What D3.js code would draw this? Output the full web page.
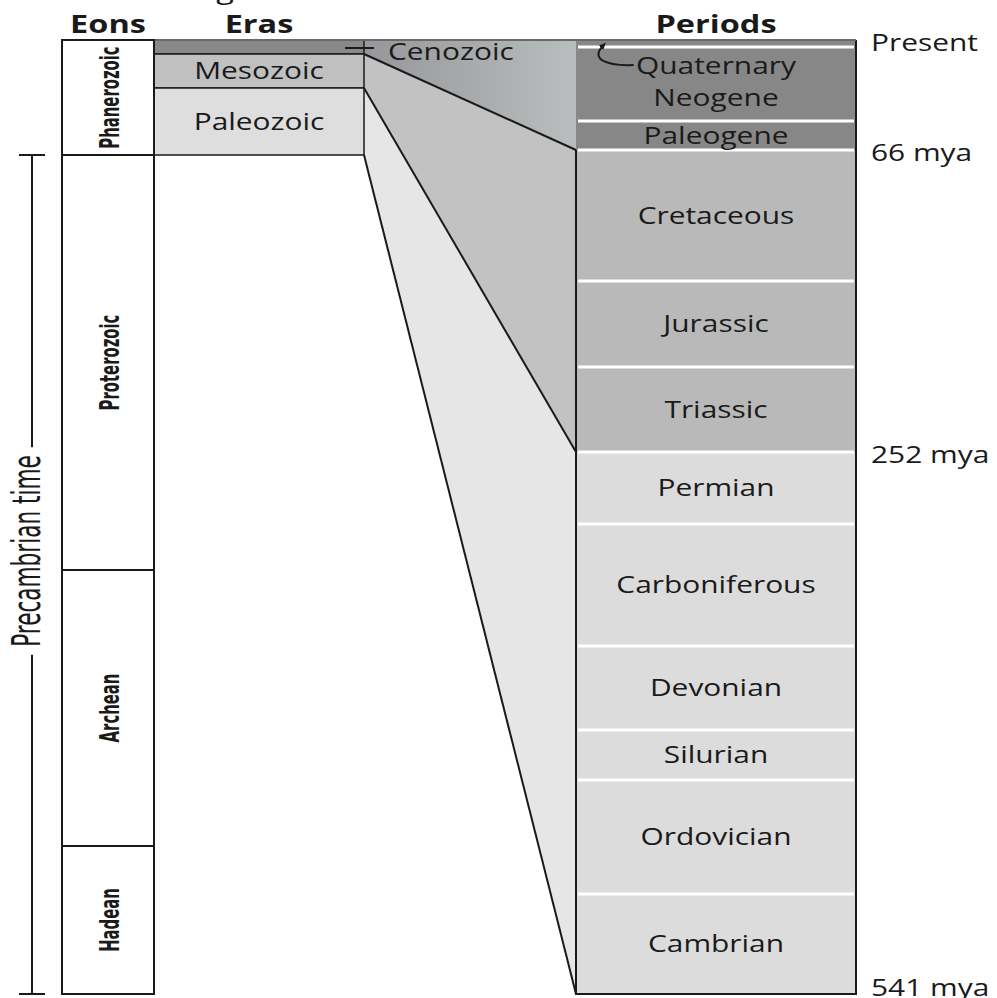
<!DOCTYPE html>
<html>
<head>
<meta charset="utf-8">
<script src="https://cdn.jsdelivr.net/npm/d3@7"></script>
<style>
    body { margin: 0; background: #fff; }
    svg { display: block; }
</style>
</head>
<body>
<svg id="svg" width="997" height="998"></svg>
<script>
// ages are in millions of years ago, each value is the older end of the unit
let eonNames = ["Phanerozoic", "Proterozoic", "Archean", "Hadean"];
let eonEnds = [541, 2500, 4000, 4600];

let eraNames = ["Cenozoic", "Mesozoic", "Paleozoic"];
let eraEnds = [66, 252, 541];

let periodNames = ["Quaternary", "Neogene", "Paleogene", "Cretaceous", "Jurassic", "Triassic",
    "Permian", "Carboniferous", "Devonian", "Silurian", "Ordovician", "Cambrian"];
let periodEnds = [2.6, 23, 66, 145, 201, 252, 299, 359, 419, 444, 485, 541];

let markAges = [0, 66, 252, 541];
let markLabels = ["Present", "66 mya", "252 mya", "541 mya"];

let svg = d3.select("#svg");
const SX = 1.3;          // lettering in the figure is stretched sideways
const VX = 1.65;         // and the upright lettering even more
const ink = "#1a1a1a";
const font = "'Open Sans', sans-serif";
const narrow = "'Liberation Sans Narrow', 'DejaVu Sans Condensed', sans-serif";

// the figure is not drawn to scale, so both columns use piecewise scales
let leftY = d3.scaleLinear()
    .domain([0].concat(eraEnds, eonEnds.slice(1)))
    .range([40, 54, 88, 155, 570, 846, 994]);

let rightY = d3.scaleLinear()
    .domain([0].concat(periodEnds))
    .range([40, 47, 121, 150, 281, 367, 452, 524, 646, 730, 780, 894, 994]);

const eonX = [62, 154];
const eraX = [154, 364];
const perX = [576, 856];

let eraFill = ["#898989", "#c0c0c0", "#dedede"];
let wedgeFill = ["url(#ceno)", "#c2c2c2", "#e6e6e6"];
let periodFill = ["#878787", "#b9b9b9", "#dcdcdc"];

let defs = svg.append("defs");
let grad = defs.append("linearGradient").attr("id", "ceno")
    .attr("x1", 0).attr("x2", 1).attr("y1", 0).attr("y2", 0);
grad.append("stop").attr("offset", 0).attr("stop-color", "#95979a");
grad.append("stop").attr("offset", 1).attr("stop-color", "#babdbd");

defs.append("marker").attr("id", "head")
    .attr("viewBox", "0 0 10 10").attr("refX", 5).attr("refY", 5)
    .attr("markerWidth", 4).attr("markerHeight", 4).attr("orient", "auto")
    .append("path").attr("d", "M0,1 L9,5 L0,9 Z").attr("fill", ink);

function hText(g, x, y, str, size, weight, anchor) {
    return g.append("text")
        .attr("transform", `translate(${x},${y}) scale(${SX},1)`)
        .attr("text-anchor", anchor || "middle")
        .style("font-family", font)
        .style("font-size", size + "px")
        .style("font-weight", weight || 400)
        .style("fill", ink)
        .text(str);
}

function vText(g, x, y, str, size, weight) {
    return g.append("text")
        .attr("transform", `translate(${x},${y}) scale(${VX},1) rotate(-90)`)
        .attr("text-anchor", "middle")
        .style("font-family", narrow)
        .style("font-size", size + "px")
        .style("font-weight", weight || 400)
        .style("fill", ink)
        .text(str);
}

function span(ends, i) {
    return [i === 0 ? 0 : ends[i - 1], ends[i]];
}

function eraOf(age) {
    return eraEnds.findIndex(e => age <= e);
}

// wedges linking the era boxes to the period column
let wedges = svg.append("g");
eraNames.forEach((name, i) => {
    let [a0, a1] = span(eraEnds, i);
    let pts = [[eraX[1], leftY(a0)], [perX[0], rightY(a0)], [perX[0], rightY(a1)], [eraX[1], leftY(a1)]];
    wedges.append("polygon")
        .attr("points", pts.map(p => p.join(",")).join(" "))
        .attr("fill", wedgeFill[i]);
});
eraEnds.forEach(a => {
    wedges.append("line")
        .attr("x1", eraX[1]).attr("y1", leftY(a))
        .attr("x2", perX[0]).attr("y2", rightY(a))
        .attr("stroke", ink).attr("stroke-width", 2);
});

// periods
let periods = svg.append("g");
periodNames.forEach((name, i) => {
    let [a0, a1] = span(periodEnds, i);
    periods.append("rect")
        .attr("x", perX[0]).attr("y", rightY(a0))
        .attr("width", perX[1] - perX[0]).attr("height", rightY(a1) - rightY(a0))
        .attr("fill", periodFill[eraOf(a1)]);
});
periodEnds.slice(0, -1).forEach(a => {
    periods.append("line")
        .attr("x1", perX[0] + 2).attr("x2", perX[1] - 2)
        .attr("y1", rightY(a)).attr("y2", rightY(a))
        .attr("stroke", "#fff").attr("stroke-width", 3);
});
periods.append("path")
    .attr("d", `M${perX[0]},${rightY(eraEnds[0])} V${rightY(541)} H${perX[1]} V${rightY(0)}`)
    .attr("fill", "none").attr("stroke", ink).attr("stroke-width", 2);

// eras
let eras = svg.append("g");
eraNames.forEach((name, i) => {
    let [a0, a1] = span(eraEnds, i);
    eras.append("rect")
        .attr("x", eraX[0]).attr("y", leftY(a0))
        .attr("width", eraX[1] - eraX[0]).attr("height", leftY(a1) - leftY(a0))
        .attr("fill", eraFill[i])
        .attr("stroke", ink).attr("stroke-width", 1.5);
});

// top edge across eras, wedges and periods
svg.append("line")
    .attr("x1", eraX[0]).attr("x2", perX[1])
    .attr("y1", leftY(0)).attr("y2", leftY(0))
    .attr("stroke", "#6a6a6a").attr("stroke-width", 2);

// eons
let eons = svg.append("g");
eonNames.forEach((name, i) => {
    let [a0, a1] = span(eonEnds, i);
    eons.append("rect")
        .attr("x", eonX[0]).attr("y", leftY(a0))
        .attr("width", eonX[1] - eonX[0]).attr("height", leftY(a1) - leftY(a0))
        .attr("fill", "#fff")
        .attr("stroke", ink).attr("stroke-width", 2);
    vText(eons, (eonX[0] + eonX[1]) / 2 + 11, (leftY(a0) + leftY(a1)) / 2, name, 16.5, 700);
});

// headers
hText(svg, (eonX[0] + eonX[1]) / 2, 33, "Eons", 25, 700);
hText(svg, (eraX[0] + eraX[1]) / 2, 33, "Eras", 25, 700);
hText(svg, (perX[0] + perX[1]) / 2, 33, "Periods", 25, 700);
hText(svg, 225, -1, "g", 25, 400);

// era labels
eraNames.forEach((name, i) => {
    let [a0, a1] = span(eraEnds, i);
    if (i === 0) {
        let y = (leftY(a0) + leftY(a1)) / 2 + 1;
        svg.append("line")
            .attr("x1", eraX[1] - 19).attr("x2", eraX[1] + 10)
            .attr("y1", y).attr("y2", y)
            .attr("stroke", ink).attr("stroke-width", 2);
        hText(svg, eraX[1] + 24, y + 12, name, 23, 400, "start");
    } else {
        hText(svg, (eraX[0] + eraX[1]) / 2, (leftY(a0) + leftY(a1)) / 2 + 8, name, 23);
    }
});

// period labels; the Quaternary band is too thin, so its name sits below with an arrow
let pcx = (perX[0] + perX[1]) / 2;
periodNames.forEach((name, i) => {
    let [a0, a1] = span(periodEnds, i);
    let cy = (rightY(a0) + rightY(a1)) / 2;
    if (i === 0) return;
    if (i === 1) {
        let q = hText(svg, pcx, cy - 10, periodNames[0], 23);
        hText(svg, pcx, cy + 22, name, 23);
        let qx = pcx - q.node().getBBox().width * SX / 2 - 2;
        let qy = cy - 19;
        svg.append("path")
            .attr("d", `M${qx},${qy} C${qx - 22},${qy + 1} ${qx - 46},${qy - 4} ${qx - 30},${rightY(0) + 5}`)
            .attr("fill", "none").attr("stroke", ink).attr("stroke-width", 2)
            .attr("marker-end", "url(#head)");
        return;
    }
    hText(svg, pcx, cy + 8, name, 23);
});

// age marks on the right
markAges.forEach((a, i) => {
    hText(svg, perX[1] + 15, Math.min(rightY(a) + 11, 996), markLabels[i], 23, 400, "start");
});

// Precambrian bracket
let bx = 32;
let pTop = leftY(eonEnds[0]), pBot = leftY(eonEnds[3]);
let pMid = 551;
let pt = vText(svg, bx + 8, pMid, "Precambrian time", 24, 400);
let half = pt.node().getComputedTextLength() / 2 + 8;
let bracket = svg.append("g").attr("stroke", ink).attr("stroke-width", 2);
bracket.append("line").attr("x1", bx).attr("x2", bx).attr("y1", pTop).attr("y2", pMid - half);
bracket.append("line").attr("x1", bx).attr("x2", bx).attr("y1", pMid + half).attr("y2", pBot);
bracket.append("line").attr("x1", bx - 13).attr("x2", bx + 13).attr("y1", pTop).attr("y2", pTop);
bracket.append("line").attr("x1", bx - 13).attr("x2", bx + 13).attr("y1", pBot).attr("y2", pBot);
</script>
</body>
</html>
